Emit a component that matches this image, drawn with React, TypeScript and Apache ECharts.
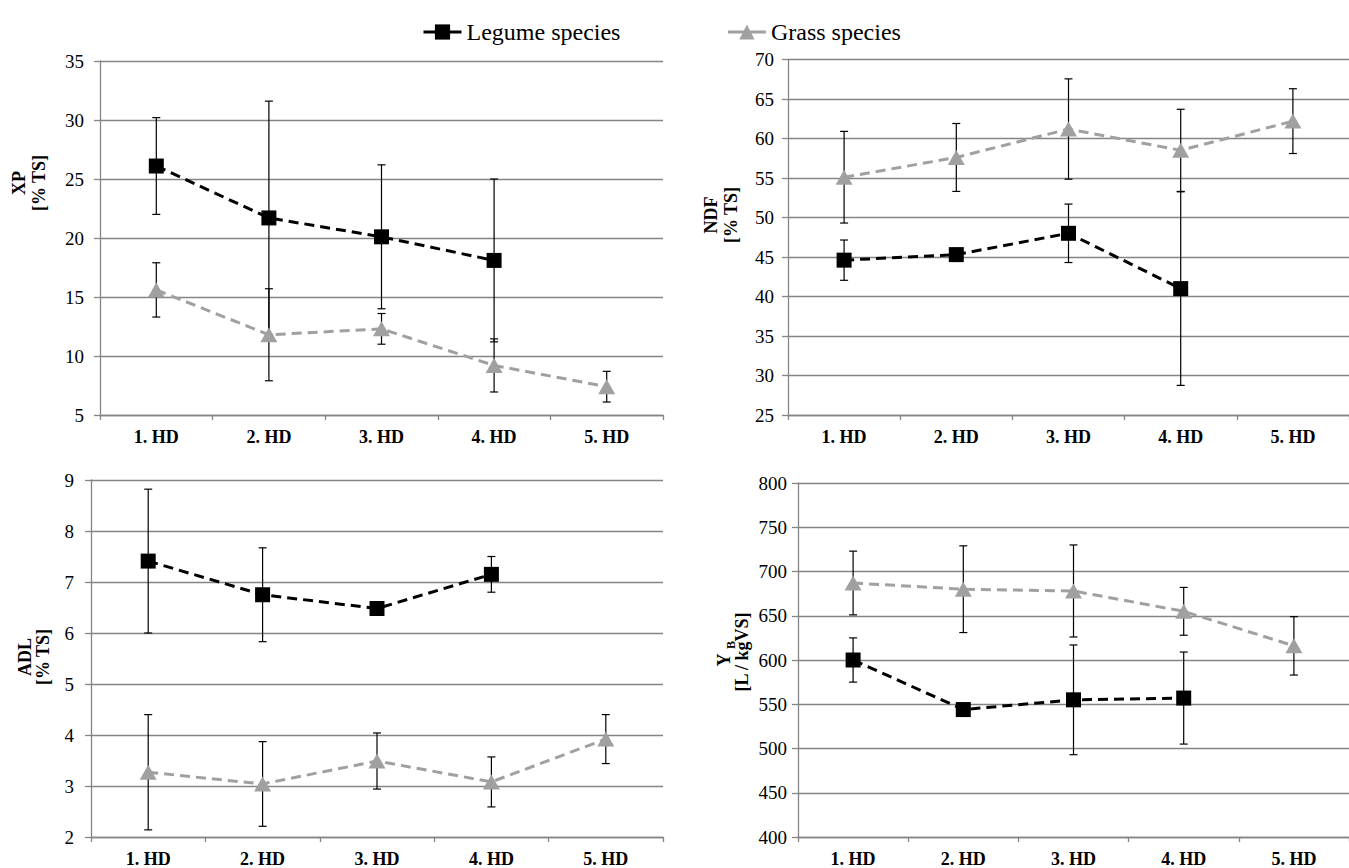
import React, { useEffect, useRef } from "react";
import * as echarts from "echarts";

// Harvest dates shared by all four panels
const categories = ["1. HD", "2. HD", "3. HD", "4. HD", "5. HD"];

// Crude protein (XP), % of total solids
const xpLegume = [26.1, 21.7, 20.1, 18.1, null];
const xpLegumeSd = [4.1, 9.9, 6.1, 6.9, null];
const xpGrass = [15.6, 11.8, 12.3, 9.2, 7.4];
const xpGrassSd = [2.3, 3.9, 1.3, 2.25, 1.3];

// Neutral detergent fibre (NDF), % of total solids
const ndfLegume = [44.6, 45.3, 48.0, 41.0, null];
const ndfLegumeSd = [2.55, 0.8, 3.7, 12.25, null];
const ndfGrass = [55.1, 57.6, 61.2, 58.5, 62.2];
const ndfGrassSd = [5.8, 4.3, 6.35, 5.2, 4.1];

// Acid detergent lignin (ADL), % of total solids
const adlLegume = [7.41, 6.75, 6.48, 7.15, null];
const adlLegumeSd = [1.41, 0.92, 0.1, 0.35, null];
const adlGrass = [3.27, 3.04, 3.49, 3.08, 3.92];
const adlGrassSd = [1.13, 0.83, 0.55, 0.49, 0.48];

// Biogas yield Y_B, L / kg VS
const ybLegume = [600, 544, 555, 557, null];
const ybLegumeSd = [25, 5, 62, 52, null];
const ybGrass = [687, 680, 678, 655, 616];
const ybGrassSd = [36, 49, 52, 27, 33];

// Value-axis ranges: [min, max, interval]
const xpRange = [5, 35, 5];
const ndfRange = [25, 70, 5];
const adlRange = [2, 9, 1];
const ybRange = [400, 800, 50];

const legendNames = ["Legume species", "Grass species"];

const SERIF = "'Liberation Serif', 'Times New Roman', serif";
const AXIS_GRAY = "#858585";
const GRASS_GRAY = "#a0a0a0";

type Panel = {
  grid: { left: number; top: number; width: number; height: number };
  range: number[];
  legume: (number | null)[];
  legumeSd: (number | null)[];
  grass: (number | null)[];
  grassSd: (number | null)[];
  labelMargin: number;
};

const panels: Panel[] = [
  {
    grid: { left: 100, top: 61, width: 563, height: 354 },
    range: xpRange,
    legume: xpLegume,
    legumeSd: xpLegumeSd,
    grass: xpGrass,
    grassSd: xpGrassSd,
    labelMargin: 16,
  },
  {
    grid: { left: 788, top: 59.5, width: 566, height: 355.5 },
    range: ndfRange,
    legume: ndfLegume,
    legumeSd: ndfLegumeSd,
    grass: ndfGrass,
    grassSd: ndfGrassSd,
    labelMargin: 14,
  },
  {
    grid: { left: 91, top: 480, width: 572, height: 357 },
    range: adlRange,
    legume: adlLegume,
    legumeSd: adlLegumeSd,
    grass: adlGrass,
    grassSd: adlGrassSd,
    labelMargin: 17,
  },
  {
    grid: { left: 798, top: 483, width: 561, height: 354 },
    range: ybRange,
    legume: ybLegume,
    legumeSd: ybLegumeSd,
    grass: ybGrass,
    grassSd: ybGrassSd,
    labelMargin: 11,
  },
];

function errorData(mean: (number | null)[], sd: (number | null)[]) {
  const out: number[][] = [];
  mean.forEach((m, i) => {
    const s = sd[i];
    if (m == null || s == null) return;
    out.push([i, m - s, m + s]);
  });
  return out;
}

function renderErrorBar(params: any, api: any) {
  const x = api.value(0);
  const lo = api.coord([x, api.value(1)]);
  const hi = api.coord([x, api.value(2)]);
  const w = 4;
  const style = { stroke: "#000", lineWidth: 1.2 };
  return {
    type: "group",
    children: [
      { type: "line", shape: { x1: lo[0], y1: lo[1], x2: hi[0], y2: hi[1] }, style },
      { type: "line", shape: { x1: lo[0] - w, y1: lo[1], x2: lo[0] + w, y2: lo[1] }, style },
      { type: "line", shape: { x1: hi[0] - w, y1: hi[1], x2: hi[0] + w, y2: hi[1] }, style },
    ],
  };
}

function titleText(text: string, x: number, y: number, size = 18) {
  return {
    type: "text",
    x,
    y,
    rotation: Math.PI / 2,
    style: {
      text,
      fill: "#000",
      fontSize: size,
      fontWeight: "bold",
      fontFamily: SERIF,
      textAlign: "center",
      textVerticalAlign: "middle",
    },
  };
}

function buildOption() {
  const grid: any[] = [];
  const xAxis: any[] = [];
  const yAxis: any[] = [];
  const series: any[] = [];

  panels.forEach((p, i) => {
    grid.push({ ...p.grid, containLabel: false });
    xAxis.push({
      type: "category",
      gridIndex: i,
      data: categories,
      boundaryGap: true,
      axisLine: { show: true, lineStyle: { color: AXIS_GRAY, width: 1.3 } },
      axisTick: { show: true, length: 5, lineStyle: { color: AXIS_GRAY, width: 1.3 } },
      axisLabel: {
        margin: 13,
        color: "#000",
        fontFamily: SERIF,
        fontSize: 18,
        fontWeight: "bold",
      },
      splitLine: { show: false },
    });
    yAxis.push({
      type: "value",
      gridIndex: i,
      min: p.range[0],
      max: p.range[1],
      interval: p.range[2],
      axisLine: { show: true, lineStyle: { color: AXIS_GRAY, width: 1.3 } },
      axisTick: { show: true, length: 6, lineStyle: { color: AXIS_GRAY, width: 1.3 } },
      axisLabel: {
        margin: p.labelMargin,
        color: "#000",
        fontFamily: SERIF,
        fontSize: 19,
      },
      splitLine: { show: true, lineStyle: { color: AXIS_GRAY, width: 1.3 } },
    });

    series.push({
      type: "line",
      name: legendNames[0],
      xAxisIndex: i,
      yAxisIndex: i,
      data: p.legume,
      z: 3,
      symbol: "rect",
      symbolSize: 15,
      itemStyle: { color: "#000" },
      lineStyle: { color: "#000", width: 3, type: [10, 6] },
    });
    series.push({
      type: "line",
      name: legendNames[1],
      xAxisIndex: i,
      yAxisIndex: i,
      data: p.grass,
      z: 3,
      symbol: "triangle",
      symbolSize: [17, 15],
      itemStyle: { color: GRASS_GRAY },
      lineStyle: { color: GRASS_GRAY, width: 3, type: [10, 6] },
    });
    series.push({
      type: "custom",
      id: `err-legume-${i}`,
      xAxisIndex: i,
      yAxisIndex: i,
      z: 2,
      renderItem: renderErrorBar,
      encode: { x: 0, y: [1, 2] },
      data: errorData(p.legume, p.legumeSd),
    });
    series.push({
      type: "custom",
      id: `err-grass-${i}`,
      xAxisIndex: i,
      yAxisIndex: i,
      z: 2,
      renderItem: renderErrorBar,
      encode: { x: 0, y: [1, 2] },
      data: errorData(p.grass, p.grassSd),
    });
  });

  const graphic: any[] = [
    titleText("XP", 19, 183),
    titleText("[% TS]", 39, 183),
    titleText("NDF", 711, 215),
    titleText("[% TS]", 731, 215),
    titleText("ADL", 25, 657),
    titleText("[% TS]", 43, 657),
    titleText("Y", 724, 660),
    titleText("B", 731, 645, 12),
    titleText("[L / kgVS]", 742, 652),
  ];

  return {
    animation: false,
    backgroundColor: "#fff",
    legend: {
      data: legendNames,
      left: 417,
      top: 15,
      itemWidth: 38,
      itemHeight: 19,
      itemGap: 106,
      lineStyle: { type: "solid", width: 3 },
      textStyle: { fontFamily: SERIF, fontSize: 24, color: "#000" },
      selectedMode: false,
    },
    grid,
    xAxis,
    yAxis,
    series,
    graphic,
  };
}

export default function App() {
  const ref = useRef<HTMLDivElement>(null);

  useEffect(() => {
    if (!ref.current) return;
    const chart = echarts.init(ref.current, undefined, { renderer: "svg" });
    chart.setOption(buildOption() as any);
    return () => chart.dispose();
  }, []);

  return (
    <div
      ref={ref}
      style={{ position: "absolute", left: 0, top: 0, width: 1349, height: 868, background: "#fff" }}
    />
  );
}
